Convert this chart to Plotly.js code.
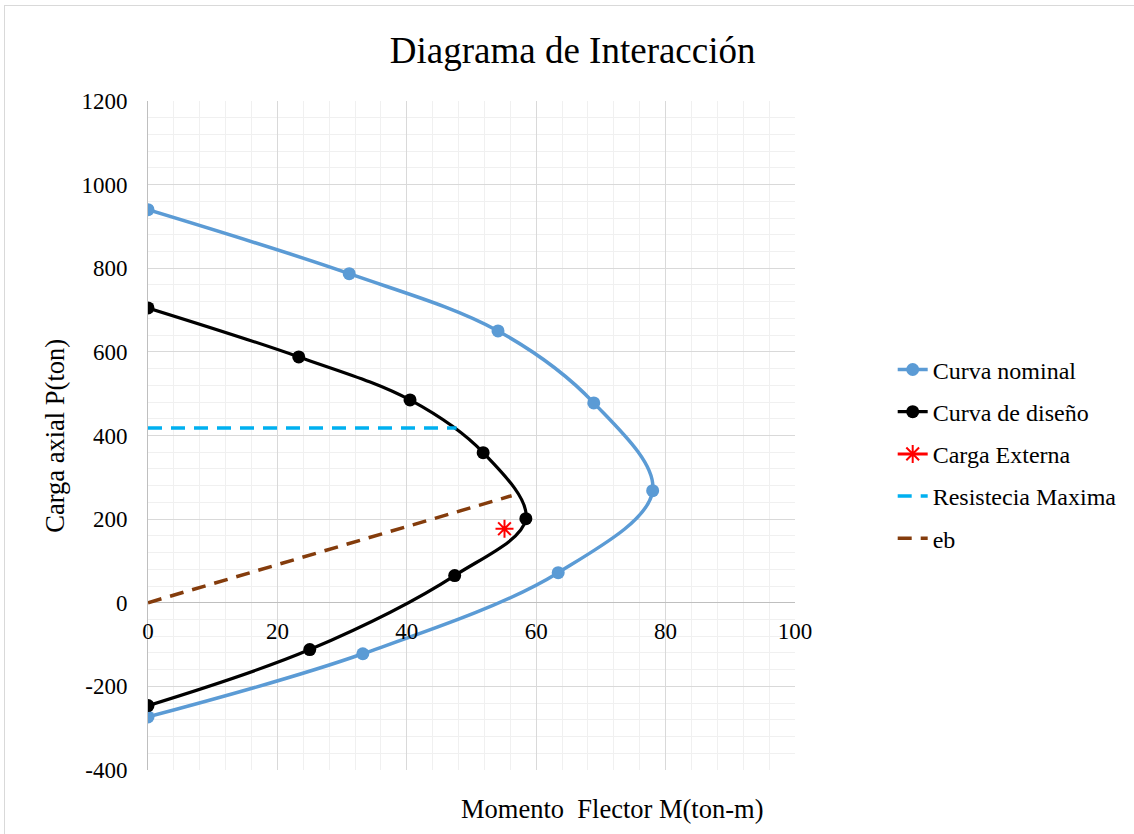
<!DOCTYPE html>
<html>
<head>
<meta charset="utf-8">
<script src="https://cdn.plot.ly/plotly-3.0.1.min.js"></script>
<style>
  body { margin: 0; background: #fff; }
  #chart { width: 1134px; height: 834px; }
  #frame { position: absolute; left: 4px; top: 5px; width: 1200px; height: 900px;
           border-left: 1px solid #d9d9d9; border-top: 1px solid #d9d9d9; pointer-events: none; }
</style>
</head>
<body>
<div id="chart"></div>
<div id="frame"></div>
<script>
// Curva nominal
var nominalM = [0, 31.1, 54.1, 68.9, 78.0, 63.4, 33.2, 0];
var nominalP = [940, 787, 650, 478, 268, 72, -122, -273];

// Curva de diseño
var disenoM = [0, 23.3, 40.5, 51.8, 58.4, 47.4, 25.0, 0];
var disenoP = [705, 588, 485, 359, 201, 65, -112, -246];

// Carga externa
var cargaM = [55.1];
var cargaP = [177];

// Resistencia maxima
var resistM = [0, 47.7];
var resistP = [418, 418];

// eb
var ebM = [0, 56.2];
var ebP = [0, 256];

// tick labels (Excel style hyphen minus)
var yTickVals = [-400, -200, 0, 200, 400, 600, 800, 1000, 1200];
var yTickText = ['-400', '-200', '0', '200', '400', '600', '800', '1000', '1200'];

var serif = 'Liberation Serif, Times New Roman, serif';

var trace1 = {
    x: nominalM, y: nominalP,
    name: 'Curva nominal',
    type: 'scatter', mode: 'lines+markers',
    line: {color: '#5B9BD5', width: 3.5, shape: 'spline'},
    marker: {color: '#5B9BD5', size: 13},
    legendgroup: 'a'
};

var trace2 = {
    x: disenoM, y: disenoP,
    name: 'Curva de diseño',
    type: 'scatter', mode: 'lines+markers',
    line: {color: '#000000', width: 3.2, shape: 'spline'},
    marker: {color: '#000000', size: 13},
    legendgroup: 'b'
};

var trace3 = {
    x: cargaM, y: cargaP,
    name: 'Carga Externa',
    type: 'scatter', mode: 'lines+markers',
    line: {color: '#FF0000', width: 3},
    marker: {color: '#FF0000', size: 15, symbol: 'asterisk-open', line: {color: '#FF0000', width: 2}},
    legendgroup: 'c'
};

var trace4 = {
    x: resistM, y: resistP,
    name: 'Resistecia Maxima',
    type: 'scatter', mode: 'lines',
    line: {color: '#00B0F0', width: 3.5, dash: '14px,9px'},
    legendgroup: 'd'
};

var trace5 = {
    x: ebM, y: ebP,
    name: 'eb',
    type: 'scatter', mode: 'lines',
    line: {color: '#843C0C', width: 3.5, dash: '14px,9px'},
    legendgroup: 'e'
};

var data = [trace1, trace2, trace3, trace4, trace5];

var layout = {
    width: 1134,
    height: 834,
    margin: {l: 148, r: 339, t: 101, b: 64},
    paper_bgcolor: '#ffffff',
    plot_bgcolor: '#ffffff',
    font: {family: serif, size: 23, color: '#000000'},
    title: {
        text: 'Diagrama de Interacción',
        font: {family: serif, size: 37, color: '#000000'},
        xref: 'container', x: 0.505,
        yref: 'container', y: 0.94, yanchor: 'middle'
    },
    xaxis: {
        range: [0, 100],
        dtick: 20,
        anchor: 'free',
        position: 0.25,
        showline: false,
        zeroline: false,
        showgrid: true,
        gridcolor: '#d9d9d9',
        gridwidth: 1,
        minor: {dtick: 4, showgrid: true, gridcolor: '#f0f0f0', gridwidth: 1},
        ticks: '',
        ticklabelstandoff: 12,
        tickfont: {family: serif, size: 23, color: '#000000'},
        fixedrange: true
    },
    yaxis: {
        range: [-400, 1200],
        tickvals: yTickVals,
        ticktext: yTickText,
        showline: true,
        linecolor: '#bfbfbf',
        linewidth: 1,
        zeroline: true,
        zerolinecolor: '#bfbfbf',
        zerolinewidth: 1,
        showgrid: true,
        gridcolor: '#d9d9d9',
        gridwidth: 1,
        minor: {dtick: 40, showgrid: true, gridcolor: '#f0f0f0', gridwidth: 1},
        ticks: '',
        ticklabelstandoff: 15,
        tickfont: {family: serif, size: 23, color: '#000000'},
        fixedrange: true
    },
    showlegend: true,
    legend: {
        traceorder: 'grouped',
        tracegroupgap: 8,
        x: 1.151, xanchor: 'left',
        y: 0.4725, yanchor: 'middle',
        font: {family: serif, size: 24, color: '#000000'},
        bgcolor: 'rgba(0,0,0,0)'
    },
    annotations: [
        {
            text: 'Momento  Flector M(ton-m)',
            xref: 'paper', yref: 'paper',
            x: 0.718, y: -0.058, xanchor: 'center', yanchor: 'middle',
            showarrow: false,
            font: {family: serif, size: 26.5, color: '#000000'}
        },
        {
            text: 'Carga axial P(ton)',
            xref: 'paper', yref: 'paper',
            x: -0.145, y: 0.5, xanchor: 'center', yanchor: 'middle',
            textangle: -90,
            showarrow: false,
            font: {family: serif, size: 26.5, color: '#000000'}
        }
    ]
};

Plotly.newPlot('chart', data, layout, {displayModeBar: false});
</script>
</body>
</html>
